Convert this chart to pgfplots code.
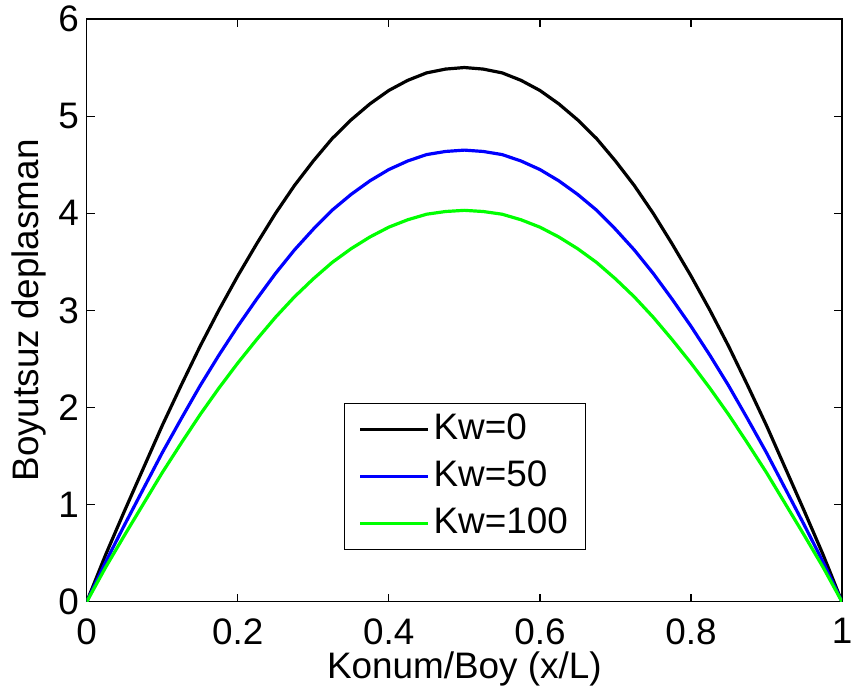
\documentclass[border=0pt]{standalone}
\usepackage{fontspec}
\setmainfont{Liberation Sans}
\usepackage{pgfplots}
\pgfplotsset{compat=1.18}
\definecolor{mgreen}{RGB}{0,255,0}
\definecolor{mblue}{RGB}{0,0,255}

\begin{document}
\fontsize{18.5}{22}\selectfont
\begin{tikzpicture}
\useasboundingbox (-43.5pt,-49pt) rectangle (384.5pt,302pt);
\begin{axis}[
  scale only axis, width=379pt, height=292.5pt,
  xmin=0, xmax=1, ymin=0, ymax=6,
  xtick={0,0.2,0.4,0.6,0.8,1}, ytick={0,1,2,3,4,5,6},
  xticklabels={0,0.2,0.4,0.6,0.8,1},
  tick align=inside, tick pos=both, major tick length=4pt,
  axis line style={line width=0.6pt}, every tick/.style={black,line width=0.6pt},
  /pgf/number format/assume math mode=true,
  tick label style={font=\fontsize{18.5}{22}\selectfont},
  xticklabel style={yshift=-2pt},
  yticklabel style={xshift=2.5pt},
  xlabel={Konum/Boy (x/L)}, ylabel={Boyutsuz deplasman},
  label style={font=\fontsize{18.5}{22}\selectfont},
  xlabel style={at={(axis description cs:0.5,-0.131)},anchor=base},
  ylabel style={at={(axis description cs:-0.077,0.5)},anchor=center,rotate=0},
  legend style={at={(0.341,0.089)},anchor=south west,draw=black,line width=0.6pt,
    font=\fontsize{18.5}{22}\selectfont,inner xsep=7pt,inner ysep=3pt,
    row sep=4pt,cells={anchor=west}},
  legend image code/.code={\draw[#1,line width=1.5pt] (0pt,0pt) -- (34pt,0pt);},
  legend cell align=left,
]
\addplot[black,line width=1.6pt] coordinates {
(0,0) (0.025,0.484) (0.05,0.935) (0.075,1.375) (0.1,1.815) (0.125,2.228) (0.15,2.629)
(0.175,3.003) (0.2,3.355) (0.225,3.685) (0.25,3.999) (0.275,4.285) (0.3,4.538)
(0.325,4.769) (0.35,4.961) (0.375,5.126) (0.4,5.264) (0.425,5.368) (0.45,5.445)
(0.475,5.484) (0.5,5.5)
(0.525,5.484) (0.55,5.445) (0.575,5.368) (0.6,5.264) (0.625,5.126) (0.65,4.961)
(0.675,4.769) (0.7,4.538) (0.725,4.285) (0.75,3.999) (0.775,3.685) (0.8,3.355)
(0.825,3.003) (0.85,2.629) (0.875,2.228) (0.9,1.815) (0.925,1.375) (0.95,0.935)
(0.975,0.484) (1,0)};
\addplot[mblue,line width=1.6pt] coordinates {
(0,0) (0.025,0.409) (0.05,0.791) (0.075,1.163) (0.1,1.535) (0.125,1.883) (0.15,2.223)
(0.175,2.539) (0.2,2.837) (0.225,3.116) (0.25,3.381) (0.275,3.622) (0.3,3.836)
(0.325,4.032) (0.35,4.194) (0.375,4.334) (0.4,4.450) (0.425,4.538) (0.45,4.604)
(0.475,4.636) (0.5,4.65)
(0.525,4.636) (0.55,4.604) (0.575,4.538) (0.6,4.450) (0.625,4.334) (0.65,4.194)
(0.675,4.032) (0.7,3.836) (0.725,3.622) (0.75,3.381) (0.775,3.116) (0.8,2.837)
(0.825,2.539) (0.85,2.223) (0.875,1.883) (0.9,1.535) (0.925,1.163) (0.95,0.791)
(0.975,0.409) (1,0)};
\addplot[mgreen,line width=1.6pt] coordinates {
(0,0) (0.025,0.355) (0.05,0.685) (0.075,1.008) (0.1,1.330) (0.125,1.632) (0.15,1.926)
(0.175,2.200) (0.2,2.458) (0.225,2.700) (0.25,2.930) (0.275,3.139) (0.3,3.325)
(0.325,3.494) (0.35,3.635) (0.375,3.756) (0.4,3.857) (0.425,3.933) (0.45,3.990)
(0.475,4.018) (0.5,4.03)
(0.525,4.018) (0.55,3.990) (0.575,3.933) (0.6,3.857) (0.625,3.756) (0.65,3.635)
(0.675,3.494) (0.7,3.325) (0.725,3.139) (0.75,2.930) (0.775,2.700) (0.8,2.458)
(0.825,2.200) (0.85,1.926) (0.875,1.632) (0.9,1.330) (0.925,1.008) (0.95,0.685)
(0.975,0.355) (1,0)};
\legend{Kw=0,Kw=50,Kw=100}
\end{axis}
\end{tikzpicture}
\end{document}
